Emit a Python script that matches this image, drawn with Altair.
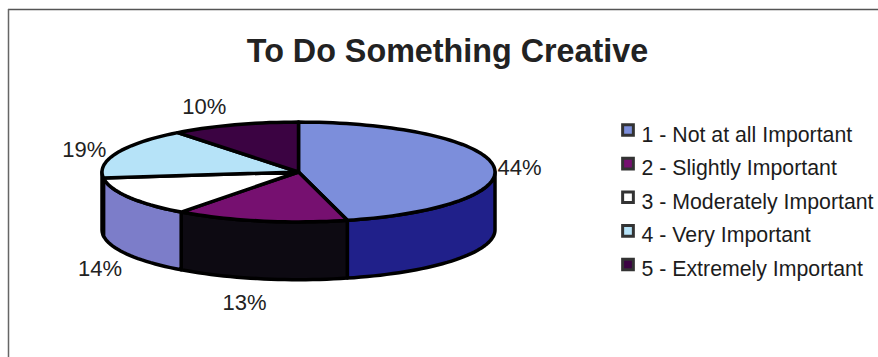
import math
import altair as alt

# Survey shares, clockwise from twelve o'clock
categories = ["1 - Not at all Important", "2 - Slightly Important", "3 - Moderately Important",
              "4 - Very Important", "5 - Extremely Important"]
shares = [44, 13, 14, 19, 10]
top_colors = ["#7c8edb", "#761070", "#ffffff", "#b6e3f8", "#3b0342"]
wall_colors = ["#20208a", "#0d0a12", "#7c7dc9", "#b6e3f8", "#3b0342"]

# Outer percentage labels, in disc units (one unit = disc radius)
label_lon = [1.125, -0.275, -1.01, -1.09, -0.48]
label_lat = [0.02, -0.665, -0.495, 0.11, 0.33]

TILT = 0.254     # flattening of the disc
DEPTH = 0.294    # thickness of the pie
SKEW = 4.8       # angular skew of the 3-D view, degrees
STRETCH = 3.0    # uneven angular stretch of the 3-D view, degrees


def view_angle(t):
    r = math.radians(t)
    return t + SKEW * (1 - math.cos(r)) + STRETCH * math.sin(2 * r)


def rim(t, drop=0.0):
    r = math.radians(t)
    return [round(math.sin(r), 4), round(math.cos(r) * TILT - drop, 4)]


def arc(a, b, drop=0.0):
    n = max(2, int(abs(b - a) / 2) + 1)
    return [rim(a + (b - a) * i / (n - 1), drop) for i in range(n)]


def feature(ring, category, fill):
    return {"type": "Feature",
            "geometry": {"type": "Polygon", "coordinates": [ring + [ring[0]]]},
            "properties": {"category": category, "fill": fill}}


tops, walls = [], []
acc = 0.0
for cat, share, top, wall in zip(categories, shares, top_colors, wall_colors):
    a = view_angle(acc / 100 * 360)
    acc += share
    b = view_angle(acc / 100 * 360)
    tops.append(feature([[0.0, 0.0]] + arc(a, b), cat, top))
    lo, hi = max(a, 90.0), min(b, 270.0)
    if hi > lo:
        walls.append(feature(arc(lo, hi) + arc(hi, lo, DEPTH), cat, wall))


def collection(features):
    return alt.InlineData(values={"type": "FeatureCollection", "features": features},
                          format=alt.DataFormat(property="features", type="json"))


wall_layer = alt.Chart(collection(walls)).mark_geoshape(
    stroke="#000000", strokeWidth=3.5, strokeJoin="round"
).encode(fill=alt.Fill("properties.fill:N", scale=None))

top_layer = alt.Chart(collection(tops)).mark_geoshape(
    stroke="#000000", strokeWidth=3.5, strokeJoin="round"
).encode(fill=alt.Fill("properties.fill:N", scale=None))

# Key at the right: swatch and caption per category, spaced by a point scale
key_data = alt.Data(values=[{"category": c, "fill": f} for c, f in zip(categories, top_colors)])
key_y = alt.Y("category:N", axis=None,
              scale=alt.Scale(type="point", domain=categories, range=[130, 264.5], padding=0))

key_swatches = alt.Chart(key_data).mark_square(
    size=115, stroke="#333333", strokeWidth=3, opacity=1
).encode(x=alt.value(628), y=key_y, fill=alt.Fill("fill:N", scale=None))

key_text = alt.Chart(key_data).mark_text(
    font="Liberation Sans", fontSize=21.3, color="#1c1c1c", align="left", dy=5.5
).encode(x=alt.value(641.5), y=key_y, text="category:N")

label_data = alt.Data(values=[
    {"lon": lo, "lat": la, "text": f"{s}%"} for lo, la, s in zip(label_lon, label_lat, shares)
])
pct_labels = alt.Chart(label_data).mark_text(
    font="Liberation Sans", fontSize=22, color="#222222"
).encode(longitude="lon:Q", latitude="lat:Q", text="text:N")

title = alt.Chart(alt.Data(values=[{"t": "To Do Something Creative"}])).mark_text(
    font="Liberation Sans", fontSize=32.3, fontWeight="bold", color="#222222"
).encode(x=alt.value(447.5), y=alt.value(52), text="t:N")

frame_top = alt.Chart(alt.Data(values=[{"a": 0}])).mark_rule(color="#555555", strokeWidth=1.5).encode(
    x=alt.value(8), x2=alt.value(878), y=alt.value(9.5))
frame_left = alt.Chart(alt.Data(values=[{"a": 0}])).mark_rule(color="#666666", strokeWidth=1.5).encode(
    x=alt.value(8.5), y=alt.value(9), y2=alt.value(357))

chart = alt.layer(
    frame_top, frame_left, title, wall_layer, top_layer, pct_labels, key_swatches, key_text
).project(
    type="identity", reflectY=True, scale=196.5, translate=[298.5, 172]
).properties(
    width=878, height=357, autosize="none", padding=0, background="#ffffff"
).configure_view(stroke=None)

chart.save("out.html", embed_options={"renderer": "svg", "actions": False})
